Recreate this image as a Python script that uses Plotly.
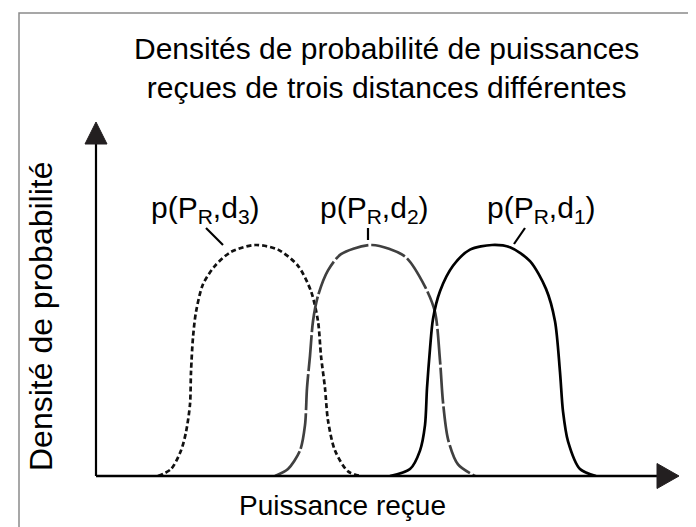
import plotly.graph_objects as go

# ---- data (arbitrary units) ----
x_d3 = [0.62, 0.75, 0.85, 0.90, 0.94, 0.95, 0.97, 1.00, 1.07, 1.19, 1.35, 1.59, 1.82, 2.02, 2.15, 2.22, 2.25, 2.29, 2.32, 2.39, 2.52, 2.65]
y_d3 = [0.00, 0.03, 0.11, 0.19, 0.31, 0.45, 0.60, 0.71, 0.83, 0.91, 0.97, 1.00, 0.98, 0.91, 0.80, 0.67, 0.52, 0.38, 0.24, 0.11, 0.02, 0.00]

x_d2 = [1.79, 1.92, 2.04, 2.09, 2.11, 2.14, 2.17, 2.22, 2.32, 2.45, 2.76, 3.09, 3.29, 3.39, 3.44, 3.47, 3.52, 3.62, 3.79]
y_d2 = [0.00, 0.03, 0.11, 0.22, 0.38, 0.52, 0.67, 0.78, 0.89, 0.96, 1.00, 0.95, 0.82, 0.71, 0.50, 0.32, 0.16, 0.05, 0.00]

x_d1 = [2.94, 3.14, 3.24, 3.29, 3.31, 3.34, 3.37, 3.44, 3.57, 3.74, 3.96, 4.14, 4.34, 4.50, 4.59, 4.64, 4.67, 4.72, 4.84, 5.00]
y_d1 = [0.00, 0.03, 0.11, 0.22, 0.38, 0.55, 0.68, 0.80, 0.91, 0.98, 1.00, 0.99, 0.93, 0.81, 0.67, 0.45, 0.28, 0.15, 0.03, 0.00]

labels = ["p(P<sub>R</sub>,d<sub>3</sub>)", "p(P<sub>R</sub>,d<sub>2</sub>)", "p(P<sub>R</sub>,d<sub>1</sub>)"]
title_text = "Densités de probabilité de puissances<br>reçues de trois distances différentes"
xlabel = "Puissance reçue"
ylabel = "Densité de probabilité"

# ---- layout geometry (pixels) ----
W, H = 696, 527
L, R, T, B = 88, 25, 114, 59
PW, PH = W - L - R, H - T - B
X_RANGE = [0, PW / 100]
Y_RANGE = [0, PH / 231]
FONT = "Liberation Sans, Arial, Helvetica, sans-serif"
ARROW = "#231f20"


def px(xp):
    return (xp - L) / PW


def py(yp):
    return (H - B - yp) / PH


fig = go.Figure()
fig.add_trace(go.Scatter(x=x_d3, y=y_d3, mode="lines", line=dict(color="#111111", width=2.7, dash="5px,3px", shape="spline", smoothing=0.8), hoverinfo="skip"))
fig.add_trace(go.Scatter(x=x_d2, y=y_d2, mode="lines", line=dict(color="#404040", width=2.7, dash="36px,3px", shape="spline", smoothing=0.8), hoverinfo="skip"))
fig.add_trace(go.Scatter(x=x_d1, y=y_d1, mode="lines", line=dict(color="#000000", width=2.7, shape="spline", smoothing=0.8), hoverinfo="skip"))

shapes = []
# outer frame
shapes.append(dict(type="rect", xref="paper", yref="paper", x0=px(11), x1=px(694.5), y0=py(525.5), y1=py(5),
                   line=dict(color="#8a8a8a", width=1.5), layer="below"))
# axes
shapes.append(dict(type="line", xref="paper", yref="paper", x0=px(88), x1=px(652), y0=py(468), y1=py(468),
                   line=dict(color="#000000", width=2.5)))
shapes.append(dict(type="line", xref="paper", yref="paper", x0=px(88), x1=px(88), y0=py(468), y1=py(134),
                   line=dict(color="#000000", width=2.2)))
# arrow heads
shapes.append(dict(type="path", xref="paper", yref="paper",
                   path=f"M {px(649)} {py(455.5)} L {px(671)} {py(468)} L {px(649)} {py(480.5)} Z",
                   fillcolor=ARROW, line=dict(color=ARROW, width=1)))
shapes.append(dict(type="path", xref="paper", yref="paper",
                   path=f"M {px(77)} {py(136)} L {px(88)} {py(114)} L {px(99)} {py(136)} Z",
                   fillcolor=ARROW, line=dict(color=ARROW, width=1)))
# leader lines
for (a, b, c, d) in [(198, 220, 215, 237), (360, 220, 360, 232), (517, 220, 506, 236)]:
    shapes.append(dict(type="line", xref="paper", yref="paper", x0=px(a), y0=py(b), x1=px(c), y1=py(d),
                       line=dict(color="#000000", width=2.2)))

annotations = []
for lab, cx in zip(labels, [197, 366, 533]):
    annotations.append(dict(text=lab, xref="paper", yref="paper", x=px(cx), y=py(201), xanchor="center",
                            yanchor="middle", showarrow=False, font=dict(size=30, color="#000", family=FONT)))
annotations.append(dict(text=xlabel, xref="paper", yref="paper", x=px(334), y=py(497), xanchor="center",
                        yanchor="middle", showarrow=False, font=dict(size=28, color="#000", family=FONT)))
annotations.append(dict(text=ylabel, xref="paper", yref="paper", x=px(33), y=py(308), xanchor="center",
                        yanchor="middle", showarrow=False, textangle=-90, font=dict(size=32, color="#000", family=FONT)))
annotations.append(dict(text=title_text, xref="paper", yref="paper", x=px(378), y=py(60), xanchor="center",
                        yanchor="middle", showarrow=False, font=dict(size=30, color="#000", family=FONT)))

fig.update_layout(
    width=W, height=H, margin=dict(l=L, r=R, t=T, b=B),
    paper_bgcolor="white", plot_bgcolor="white", showlegend=False,
    shapes=shapes, annotations=annotations,
    xaxis=dict(range=X_RANGE, visible=False, fixedrange=True),
    yaxis=dict(range=Y_RANGE, visible=False, fixedrange=True),
)

fig.write_html("out.html")
